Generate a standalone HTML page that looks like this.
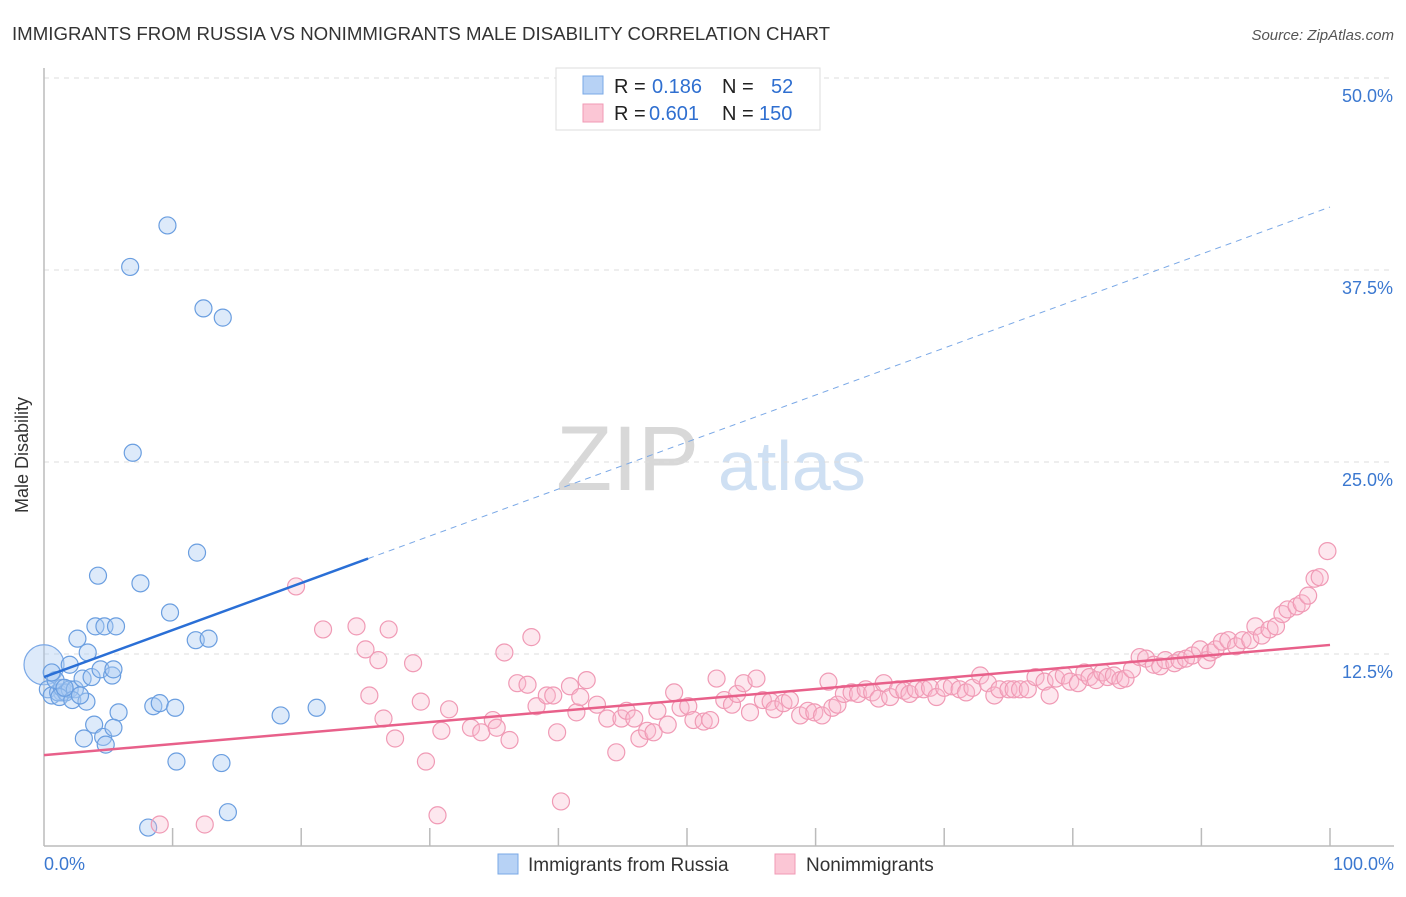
<!DOCTYPE html>
<html><head><meta charset="utf-8"><style>
body{margin:0;background:#fff;font-family:"Liberation Sans",sans-serif;}
svg text{font-family:"Liberation Sans",sans-serif;}
</style></head><body>
<svg id="chart" width="1406" height="892" xmlns="http://www.w3.org/2000/svg">
<text x="12" y="40" font-size="18" fill="#333" textLength="818" lengthAdjust="spacingAndGlyphs">IMMIGRANTS FROM RUSSIA VS NONIMMIGRANTS MALE DISABILITY CORRELATION CHART</text>
<text x="1394" y="40" font-size="15" fill="#555" font-style="italic" text-anchor="end">Source: ZipAtlas.com</text>
<g>
<text x="556" y="490" font-size="92" fill="#d8d8d8" font-family="Liberation Serif, serif">ZIP</text>
<text x="718" y="490" font-size="70" fill="#cfe0f3">atlas</text>
</g>
<g id="grid"></g>
<g id="axes"></g>
<g id="blue"></g>
<g id="pink"></g>
<g id="trends"></g>
<g>
<rect x="556" y="68" width="264" height="62" fill="#fff" stroke="#ddd"/>
<rect x="583" y="76" width="20" height="18" fill="#b7d2f5" stroke="#7aa8e6"/>
<rect x="583" y="104" width="20" height="18" fill="#fbc6d5" stroke="#f09ab5"/>
<text x="614" y="93" font-size="20" fill="#222">R = <tspan fill="#2f6fd0" x="652">0.186</tspan><tspan x="722">N =</tspan><tspan fill="#2f6fd0" x="771">52</tspan></text>
<text x="614" y="120" font-size="20" fill="#222">R = <tspan fill="#2f6fd0" x="649">0.601</tspan><tspan x="722">N =</tspan><tspan fill="#2f6fd0" x="759">150</tspan></text>
</g>
<g>
<rect x="498" y="854" width="20" height="20" fill="#b7d2f5" stroke="#7aa8e6"/>
<text x="528" y="871" font-size="19" fill="#333">Immigrants from Russia</text>
<rect x="775" y="854" width="20" height="20" fill="#fbc6d5" stroke="#f09ab5"/>
<text x="806" y="871" font-size="19" fill="#333">Nonimmigrants</text>
</g>
<text x="28" y="455" font-size="18" fill="#333" text-anchor="middle" transform="rotate(-90 28 455)">Male Disability</text>
</svg>
<script>
const yTicks=[12.5,25,37.5,50];
const yTickLabels=["12.5%","25.0%","37.5%","50.0%"];
const xTickLabels=["0.0%","100.0%"];
const blueX=[1.4,0.3,0.6,1.1,1.4,1.7,2.0,0.9,1.2,2.4,2.0,2.6,3.0,3.4,3.7,4.4,2.2,3.3,4.0,4.7,5.6,5.3,5.4,4.2,6.7,9.6,12.4,13.9,6.9,11.9,7.5,9.8,11.8,12.8,3.9,5.8,3.1,4.6,5.4,4.8,8.5,9.0,10.2,10.3,13.8,18.4,21.2,8.1,14.3,1.6,0.6,2.8];
const blueY=[10.0,10.2,9.8,10.0,10.3,10.0,10.2,10.8,9.7,10.2,11.8,13.5,10.9,12.6,11.0,11.5,9.5,9.4,14.3,14.3,14.3,11.1,11.5,17.6,37.7,40.4,35.0,34.4,25.6,19.1,17.1,15.2,13.4,13.5,7.9,8.7,7.0,7.1,7.7,6.6,9.1,9.3,9.0,5.5,5.4,8.5,9.0,1.2,2.2,10.3,11.3,9.8];
const bigX=[0.0], bigY=[11.8];
const pinkX=[9.0,12.5,30.6,40.2,19.6,21.7,24.3,26.8,25.0,26.0,28.7,25.3,26.4,27.3,29.3,29.7,31.5,30.9,33.2,34.0,34.9,35.2,36.2,35.8,37.9,36.8,37.6,38.3,39.1,39.6,39.9,40.9,41.4,41.7,42.2,43.0,43.8,44.5,44.9,45.3,45.9,46.3,46.9,47.4,47.7,48.5,49.0,49.5,50.1,50.5,51.3,51.8,52.3,52.9,53.5,53.9,54.4,54.9,55.4,55.9,56.5,56.8,57.5,58.0,58.8,59.4,59.9,60.5,61.0,61.3,61.7,62.2,62.8,63.3,63.9,64.4,64.9,65.3,65.8,66.4,66.9,67.3,67.8,68.4,68.9,69.4,70.0,70.6,71.2,71.7,72.2,72.8,73.4,73.9,74.3,75.0,75.4,75.9,76.5,77.1,77.8,78.2,78.7,79.3,79.8,80.4,80.9,81.3,81.8,82.3,82.7,83.2,83.7,84.1,84.6,85.2,85.7,86.3,86.8,87.2,87.9,88.3,88.8,89.3,89.9,90.4,90.7,91.1,91.6,92.1,92.7,93.2,93.8,94.2,94.7,95.3,95.8,96.3,96.7,97.4,97.8,98.3,98.8,99.2,99.8];
const pinkY=[1.4,1.4,2.0,2.9,16.9,14.1,14.3,14.1,12.8,12.1,11.9,9.8,8.3,7.0,9.4,5.5,8.9,7.5,7.7,7.4,8.2,7.7,6.9,12.6,13.6,10.6,10.5,9.1,9.8,9.8,7.4,10.4,8.7,9.7,10.8,9.2,8.3,6.1,8.3,8.8,8.3,7.0,7.5,7.4,8.8,7.9,10.0,9.0,9.1,8.2,8.1,8.2,10.9,9.5,9.2,9.9,10.6,8.7,10.9,9.5,9.4,8.9,9.3,9.5,8.5,8.8,8.7,8.5,10.7,9.0,9.2,9.9,10.0,9.9,10.2,10.0,9.6,10.6,9.7,10.2,10.1,9.9,10.2,10.2,10.3,9.7,10.3,10.4,10.2,10.0,10.3,11.1,10.6,9.8,10.2,10.2,10.2,10.2,10.2,11.0,10.7,9.8,10.9,11.1,10.7,10.6,11.3,11.0,10.8,11.3,11.0,11.1,10.8,10.9,11.5,12.3,12.2,11.8,11.7,12.1,11.9,12.1,12.2,12.4,12.8,12.1,12.6,12.8,13.3,13.4,13.0,13.4,13.4,14.3,13.7,14.1,14.3,15.1,15.4,15.6,15.8,16.3,17.4,17.5,19.2];
const blueTrend=[11.0,41.6], blueSolidEnd=25.2;
const pinkTrend=[5.92,13.09];

const NS="http://www.w3.org/2000/svg";
const X=v=>44+v*12.86;
const Y=v=>846-v*15.36;
function mk(tag,attrs,parent){const e=document.createElementNS(NS,tag);for(const k in attrs)e.setAttribute(k,attrs[k]);parent.appendChild(e);return e;}
const grid=document.getElementById('grid'),axes=document.getElementById('axes');
yTicks.forEach((t,i)=>{
 const l=mk('line',{x1:44,x2:1394,y1:Y(t),y2:Y(t),stroke:'#ddd','stroke-dasharray':'5,5'},grid);
 
 
 const tx=mk('text',{x:1393,y:Y(t)+24,'font-size':18,fill:'#3b78d0','text-anchor':'end'},axes);
 tx.textContent=yTickLabels[i];
 
 
});
let a=mk('line',{x1:44,x2:44,y1:68,y2:846,stroke:'#bbb','stroke-width':1.5},axes);


a=mk('line',{x1:44,x2:1394,y1:846,y2:846,stroke:'#bbb','stroke-width':1.5},axes);


for(let i=1;i<=10;i++){
 const t=mk('line',{x1:X(i*10),x2:X(i*10),y1:828,y2:846,stroke:'#bbb','stroke-width':1.5},axes);
 
 
}
[[0,'start',44],[100,'end',1394]].forEach((d,i)=>{
 const tx=mk('text',{x:d[2],y:870,'font-size':18,fill:'#3b78d0','text-anchor':d[1]},axes);
 tx.textContent=xTickLabels[i];
 
 
});
const bg=document.getElementById('blue'),pg=document.getElementById('pink');
bigX.forEach((v,i)=>{
 const c=mk('circle',{cx:X(v),cy:Y(bigY[i]),r:20,fill:'rgba(170,202,242,0.4)',stroke:'#7aa8e6','stroke-width':1.2},bg);
 
 
});
blueX.forEach((v,i)=>{
 const c=mk('circle',{cx:X(v),cy:Y(blueY[i]),r:8.5,fill:'rgba(170,202,242,0.4)',stroke:'#6a9ee0','stroke-width':1.2},bg);
 
 
});
pinkX.forEach((v,i)=>{
 const c=mk('circle',{cx:X(v),cy:Y(pinkY[i]),r:8.5,fill:'rgba(248,185,205,0.35)',stroke:'#f09ab5','stroke-width':1.2},pg);
 
 
});
const tg=document.getElementById('trends');
const by=x=>blueTrend[0]+(blueTrend[1]-blueTrend[0])*x/100;
let ln=mk('line',{x1:X(0),y1:Y(by(0)),x2:X(blueSolidEnd),y2:Y(by(blueSolidEnd)),stroke:'#2a6fd6','stroke-width':2.5},tg);


ln=mk('line',{x1:X(blueSolidEnd),y1:Y(by(blueSolidEnd)),x2:X(100),y2:Y(by(100)),stroke:'#7aa8e6','stroke-width':1,'stroke-dasharray':'6,5'},tg);


ln=mk('line',{x1:X(0),y1:Y(pinkTrend[0]),x2:X(100),y2:Y(pinkTrend[1]),stroke:'#e8608a','stroke-width':2.5},tg);


</script>
</body></html>
